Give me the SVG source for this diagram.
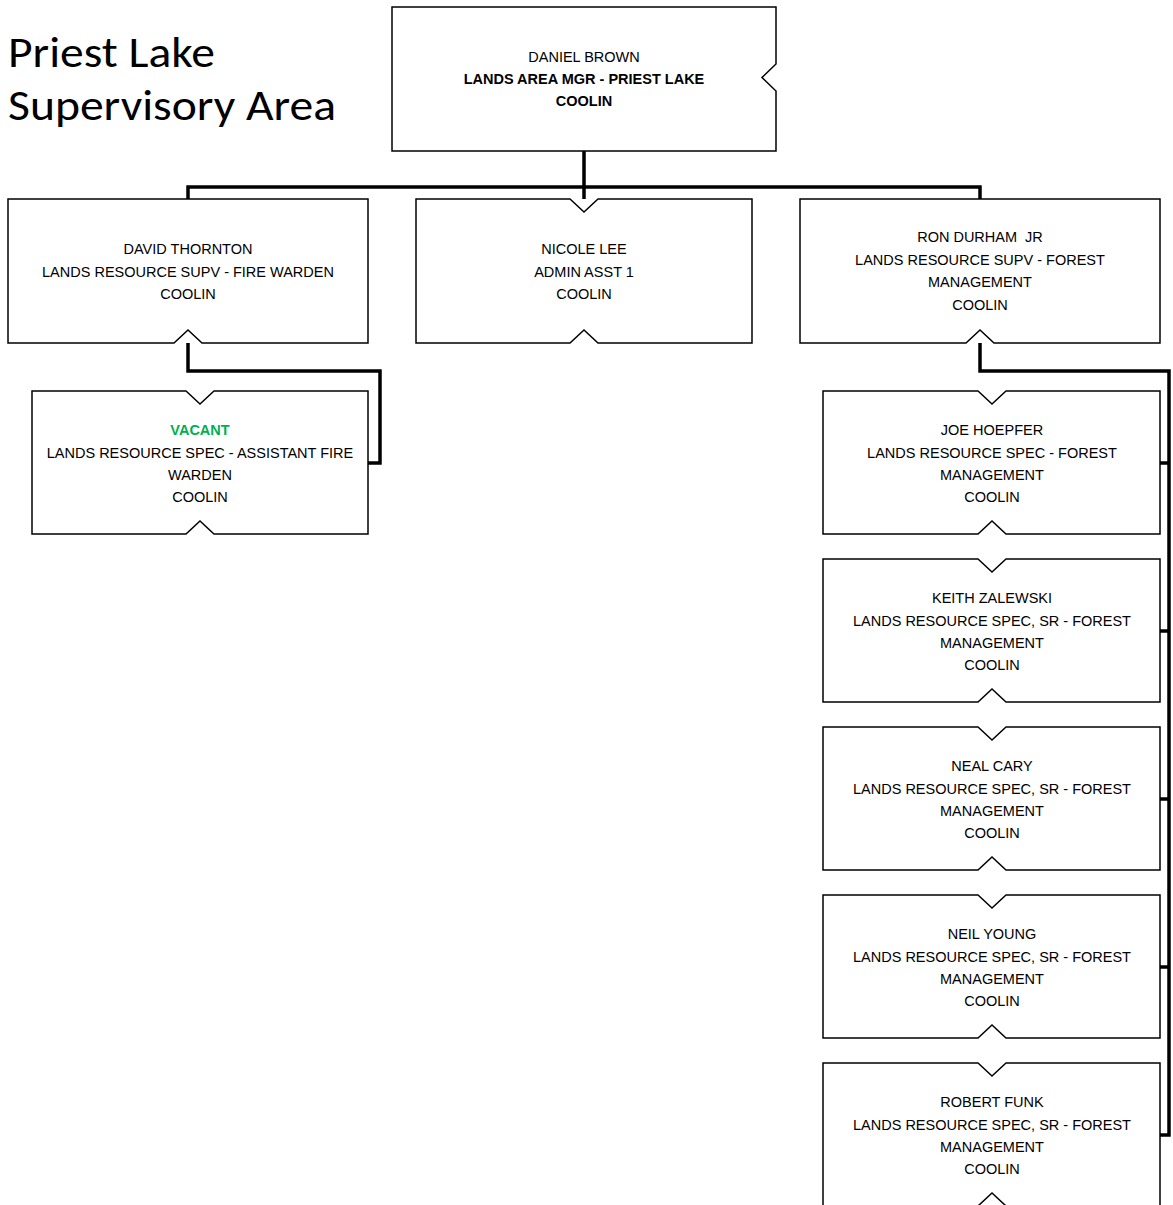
<svg xmlns="http://www.w3.org/2000/svg" width="1173" height="1205" viewBox="0 0 1173 1205">
<style>
.box{fill:#fff;stroke:#000;stroke-width:1.5;stroke-linejoin:miter}
.t{font-family:"Liberation Sans",Arial,sans-serif;font-size:14.5px;fill:#000;text-anchor:middle}
.b{font-weight:bold}
.g{fill:#00B050;font-weight:bold}
.title{font-family:Carlito,Lato,"Liberation Sans",sans-serif;font-size:43px;fill:#000}
.conn{fill:none;stroke:#000;stroke-width:3.5;stroke-linejoin:miter;stroke-linecap:butt}
</style>
<rect width="1173" height="1205" fill="#fff"/>
<g id="title">
<text class="title" x="8" y="67" textLength="207" lengthAdjust="spacingAndGlyphs">Priest Lake</text>
<text class="title" x="8" y="120" textLength="328" lengthAdjust="spacingAndGlyphs">Supervisory Area</text>
</g>
<g id="connectors">
<path class="conn" d="M584,151 V199"/>
<path class="conn" d="M188,199 V187 H980 V199"/>
<path class="conn" d="M188,343 V371 H380 V463 H368"/>
<path class="conn" d="M980,343 V371 H1169 V1135 H1160"/>
<path class="conn" d="M1160,463 H1169 M1160,631 H1169 M1160,799 H1169 M1160,967 H1169"/>
</g>
<g id="daniel-brown">
<path class="box" d="M392,7 H776 V64 L762,77.5 L776,91 V151 H392 Z"/>
<text class="t" x="584" y="62">DANIEL BROWN</text>
<text class="t b" x="584" y="84">LANDS AREA MGR - PRIEST LAKE</text>
<text class="t b" x="584" y="106">COOLIN</text>
</g>
<g id="david-thornton">
<path class="box" d="M8,199 H368 V343 H202 L188,330 L174,343 H8 Z"/>
<text class="t" x="188" y="254">DAVID THORNTON</text>
<text class="t" x="188" y="276.5">LANDS RESOURCE SUPV - FIRE WARDEN</text>
<text class="t" x="188" y="299">COOLIN</text>
</g>
<g id="nicole-lee">
<path class="box" d="M416,199 H570 L584,212 L598,199 H752 V343 H598 L584,330 L570,343 H416 Z"/>
<text class="t" x="584" y="254">NICOLE LEE</text>
<text class="t" x="584" y="276.5">ADMIN ASST 1</text>
<text class="t" x="584" y="299">COOLIN</text>
</g>
<g id="ron-durham">
<path class="box" d="M800,199 H1160 V343 H994 L980,330 L966,343 H800 Z"/>
<text class="t" x="980" y="242">RON DURHAM&#160; JR</text>
<text class="t" x="980" y="265">LANDS RESOURCE SUPV - FOREST</text>
<text class="t" x="980" y="287">MANAGEMENT</text>
<text class="t" x="980" y="310">COOLIN</text>
</g>
<g id="vacant">
<path class="box" d="M32,391 H186 L200,404 L214,391 H368 V534 H214 L200,521 L186,534 H32 Z"/>
<text class="t g" x="200" y="435">VACANT</text>
<text class="t" x="200" y="457.5">LANDS RESOURCE SPEC - ASSISTANT FIRE</text>
<text class="t" x="200" y="480">WARDEN</text>
<text class="t" x="200" y="502">COOLIN</text>
</g>
<g id="joe-hoepfer">
<path class="box" d="M823,391 H978 L992,404 L1006,391 H1160 V534 H1006 L992,521 L978,534 H823 Z"/>
<text class="t" x="992" y="435">JOE HOEPFER</text>
<text class="t" x="992" y="457.5">LANDS RESOURCE SPEC - FOREST</text>
<text class="t" x="992" y="480">MANAGEMENT</text>
<text class="t" x="992" y="502">COOLIN</text>
</g>
<g id="keith-zalewski">
<path class="box" d="M823,559 H978 L992,572 L1006,559 H1160 V702 H1006 L992,689 L978,702 H823 Z"/>
<text class="t" x="992" y="603">KEITH ZALEWSKI</text>
<text class="t" x="992" y="625.5">LANDS RESOURCE SPEC, SR - FOREST</text>
<text class="t" x="992" y="648">MANAGEMENT</text>
<text class="t" x="992" y="670">COOLIN</text>
</g>
<g id="neal-cary">
<path class="box" d="M823,727 H978 L992,740 L1006,727 H1160 V870 H1006 L992,857 L978,870 H823 Z"/>
<text class="t" x="992" y="771">NEAL CARY</text>
<text class="t" x="992" y="793.5">LANDS RESOURCE SPEC, SR - FOREST</text>
<text class="t" x="992" y="816">MANAGEMENT</text>
<text class="t" x="992" y="838">COOLIN</text>
</g>
<g id="neil-young">
<path class="box" d="M823,895 H978 L992,908 L1006,895 H1160 V1038 H1006 L992,1025 L978,1038 H823 Z"/>
<text class="t" x="992" y="939">NEIL YOUNG</text>
<text class="t" x="992" y="961.5">LANDS RESOURCE SPEC, SR - FOREST</text>
<text class="t" x="992" y="984">MANAGEMENT</text>
<text class="t" x="992" y="1006">COOLIN</text>
</g>
<g id="robert-funk">
<path class="box" d="M823,1063 H978 L992,1076 L1006,1063 H1160 V1206 H1006 L992,1193 L978,1206 H823 Z"/>
<text class="t" x="992" y="1107">ROBERT FUNK</text>
<text class="t" x="992" y="1129.5">LANDS RESOURCE SPEC, SR - FOREST</text>
<text class="t" x="992" y="1152">MANAGEMENT</text>
<text class="t" x="992" y="1174">COOLIN</text>
</g>
</svg>
